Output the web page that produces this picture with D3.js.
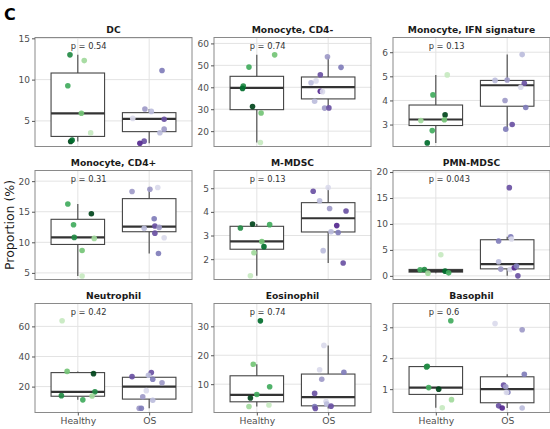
<!DOCTYPE html>
<html>
<head>
<meta charset="utf-8">
<script src="https://cdn.jsdelivr.net/npm/d3@7"></script>
<style>
  body { margin: 0; background: #fff; }
  svg { font-family: 'DejaVu Sans', sans-serif; }
</style>
</head>
<body>
<svg id="chart" width="550" height="429"></svg>
<script>
// data
const panelTitles = ['DC', 'Monocyte, CD4-', 'Monocyte, IFN signature', 'Monocyte, CD4+', 'M-MDSC', 'PMN-MDSC', 'Neutrophil', 'Eosinophil', 'Basophil'];
const groups = ['Healthy', 'OS'];
const pLabels = ['p = 0.54', 'p = 0.74', 'p = 0.13', 'p = 0.31', 'p = 0.13', 'p = 0.043', 'p = 0.42', 'p = 0.74', 'p = 0.6'];
const yDomains = [[1.9, 15.1], [13, 62.7], [2.09, 6.61], [3.92, 21.74], [1.14, 5.75], [-0.7, 20.3], [2.8, 75.2], [0.2, 37.9], [0.245, 3.77]];
const yTicks = [[5, 10, 15], [20, 30, 40, 50, 60], [3, 4, 5, 6], [5, 10, 15, 20], [2, 3, 4, 5], [0, 5, 10, 15, 20], [20, 40, 60], [10, 20, 30], [1, 2, 3]];

const healthyValues = [
	[13.0, 12.3, 9.25, 5.93, 3.55, 2.5, 2.67],
	[54.8, 49.2, 40.6, 39.5, 31.2, 28.3, 14.8],
	[5.06, 4.23, 3.40, 3.17, 3.2, 2.75, 2.24],
	[16.27, 14.68, 12.87, 10.8, 10.64, 8.67, 4.5],
	[3.49, 3.46, 3.32, 2.75, 2.53, 2.27, 1.30],
	[4.06, 1.16, 1.24, 0.91, 0.52, 0.58],
	[63.7, 30.1, 28.6, 16.5, 14.0, 13.8, 11.2],
	[31.9, 16.9, 9.1, 6.4, 5.2, 2.3, 2.8],
	[3.21, 1.72, 1.74, 1.05, 1.0, 0.66, 0.40]
];
const healthyShades = [
	[2, 5, 3, 4, 6, 0, 1],
	[4, 3, 2, 1, 0, 4, 6],
	[6, 3, 0, 5, 4, 3, 1],
	[3, 0, 3, 2, 5, 4, 6],
	[0, 3, 2, 4, 1, 5, 6],
	[6, 3, 2, 1, 5, 3],
	[6, 4, 0, 2, 2, 5, 3],
	[1, 4, 3, 3, 0, 5, 6],
	[3, 2, 2, 3, 0, 5, 6]
];
const healthyJitter = [
	[-0.11, 0.09, -0.14, 0.05, 0.18, -0.10, -0.08],
	[0.25, -0.11, -0.19, -0.20, -0.06, 0.06, 0.05],
	[0.16, -0.04, 0.13, -0.21, 0.12, -0.05, -0.12],
	[-0.14, 0.19, -0.06, -0.05, 0.23, 0.06, 0.06],
	[-0.06, 0.18, -0.23, 0.07, 0.10, -0.04, -0.09],
	[0.07, -0.22, -0.16, 0.13, -0.11, 0.18],
	[-0.22, -0.15, 0.22, 0.24, -0.23, 0.20, 0.07],
	[0.05, -0.05, 0.18, 0.0, -0.09, -0.11, 0.17],
	[0.21, -0.13, -0.12, -0.10, 0.04, 0.22, 0.09]
];
const osValues = [
	[11.1, 6.45, 6.15, 5.3, 5.2, 4.0, 3.56, 2.55, 2.3],
	[53.9, 49.1, 45.7, 42.9, 42.1, 38.2, 38.0, 33.6, 30.5, 30.6],
	[5.9, 4.83, 4.85, 4.71, 4.55, 4.0, 3.71, 3.0, 2.81],
	[18.95, 18.68, 18.3, 13.86, 12.66, 12.28, 12.44, 11.5, 10.74, 8.18],
	[5.03, 4.87, 4.47, 4.14, 4.04, 3.42, 3.16, 3.13, 2.36, 1.84],
	[17.0, 7.55, 7.1, 6.71, 2.71, 1.3, 1.24, 1.55, 1.88, 0.0],
	[29.3, 27.5, 26.6, 24.9, 22.6, 17.3, 13.3, 10.9, 5.6, 5.6],
	[23.4, 14.1, 15.0, 11.7, 6.8, 4.0, 3.1, 2.3, 1.6, 2.4],
	[3.12, 2.92, 1.48, 1.13, 1.08, 0.90, 0.89, 0.46, 0.39, 0.39]
];
const osShades = [
	[3, 4, 5, 6, 2, 4, 5, 2, 1],
	[4, 3, 2, 6, 5, 1, 6, 5, 4, 2],
	[5, 5, 4, 2, 6, 4, 3, 2, 3],
	[6, 4, 4, 3, 2, 5, 4, 2, 6, 3],
	[6, 2, 5, 4, 2, 1, 5, 3, 5, 2],
	[2, 3, 6, 3, 5, 4, 6, 1, 3, 2],
	[2, 5, 2, 3, 4, 6, 4, 5, 4, 3],
	[6, 3, 6, 4, 2, 6, 5, 3, 2, 2],
	[6, 4, 3, 2, 4, 3, 6, 2, 1, 5]
];
const osJitter = [
	[0.18, -0.06, 0.03, -0.23, 0.21, 0.21, 0.15, -0.07, -0.13],
	[-0.01, 0.18, -0.11, -0.17, -0.24, -0.11, -0.08, -0.19, -0.05, 0.01],
	[0.21, -0.17, 0.0, 0.24, 0.19, -0.03, 0.26, 0.07, -0.02],
	[0.12, 0.01, -0.24, 0.07, 0.08, -0.07, 0.14, 0.08, 0.21, 0.13],
	[0.0, -0.21, -0.12, 0.02, 0.25, 0.12, 0.04, 0.14, -0.07, 0.21],
	[0.03, 0.05, 0.06, -0.12, -0.12, -0.09, 0.04, 0.10, 0.13, 0.15],
	[0.03, -0.01, -0.24, 0.05, 0.18, -0.04, -0.09, 0.05, -0.14, -0.11],
	[-0.06, 0.22, -0.12, -0.09, -0.19, -0.03, -0.02, -0.19, -0.18, 0.04],
	[-0.17, 0.21, 0.24, -0.05, -0.02, 0.01, -0.01, -0.12, -0.07, 0.21]
];
// [lower whisker, q1, median, q3, upper whisker]
const healthyBoxes = [
	[2.5, 3.12, 5.9, 10.8, 13.0],
	[14.8, 29.8, 39.7, 45.0, 54.8],
	[2.24, 2.96, 3.21, 3.81, 5.06],
	[4.5, 9.65, 10.8, 13.76, 16.27],
	[1.30, 2.42, 2.75, 3.39, 3.49],
	[0.52, 0.72, 0.97, 1.24, 1.24],
	[11.2, 13.6, 16.5, 29.3, 30.1],
	[2.3, 3.9, 6.3, 12.9, 16.9],
	[0.40, 0.83, 1.05, 1.73, 1.74]
];
const osBoxes = [
	[2.3, 3.7, 5.25, 6.0, 6.45],
	[30.5, 34.7, 40.1, 44.7, 53.9],
	[2.81, 3.76, 4.63, 4.83, 5.9],
	[8.18, 11.73, 12.55, 17.14, 18.95],
	[1.84, 3.15, 3.73, 4.39, 5.03],
	[0.0, 1.35, 2.26, 6.96, 7.55],
	[5.6, 11.7, 20.0, 26.2, 29.3],
	[1.6, 2.5, 5.5, 13.5, 23.4],
	[0.39, 0.56, 1.0, 1.4, 1.48]
];

const greens = ['#00441b', '#006d2c', '#238b45', '#41ab5d', '#74c476', '#a1d99b', '#c7e9c0'];
const purples = ['#3f007d', '#54278f', '#6a51a3', '#807dba', '#9e9ac8', '#bcbddc', '#dadaeb'];

// layout
const margin = { left: 35, top: 37.5 };
const panelW = 157, panelH = 109;
const colStep = 179, rowStep = 133;
const tickColor = '#4d4d4d';

const svg = d3.select('#chart');

svg.append('text')
	.attr('x', 4).attr('y', 20)
	.style('font-size', '16px').style('font-weight', 'bold')
	.text('C');

svg.append('text')
	.attr('transform', `translate(14,${margin.top + (2 * rowStep + panelH) / 2}) rotate(-90)`)
	.style('text-anchor', 'middle')
	.style('font-size', '12.5px')
	.attr('fill', '#1a1a1a')
	.text('Proportion (%)');

panelTitles.forEach((title, i) => {
	const col = i % 3, row = Math.floor(i / 3);
	const g = svg.append('g')
		.attr('transform', `translate(${margin.left + col * colStep},${margin.top + row * rowStep})`);

	const x = d3.scaleLinear().domain([0.4, 2.6]).range([0, panelW]);
	const y = d3.scaleLinear().domain(yDomains[i]).range([panelH, 0]);

	g.append('rect').attr('width', panelW).attr('height', panelH).attr('fill', '#fff');

	// grid
	g.append('g').selectAll('line').data(yTicks[i]).join('line')
		.attr('x1', 0).attr('x2', panelW)
		.attr('y1', d => y(d)).attr('y2', d => y(d))
		.attr('stroke', '#e3e3e3').attr('stroke-width', 1);
	g.append('g').selectAll('line').data([1, 2]).join('line')
		.attr('y1', 0).attr('y2', panelH)
		.attr('x1', d => x(d)).attr('x2', d => x(d))
		.attr('stroke', '#e3e3e3').attr('stroke-width', 1);

	// boxes
	const boxes = [healthyBoxes[i], osBoxes[i]];
	boxes.forEach((b, k) => {
		const cx = x(k + 1);
		const bg = g.append('g');
		bg.append('line').attr('x1', cx).attr('x2', cx).attr('y1', y(b[0])).attr('y2', y(b[4]))
			.attr('stroke', '#444').attr('stroke-width', 1.1);
		bg.append('rect')
			.attr('x', x(k + 1 - 0.375)).attr('width', x(k + 1.375) - x(k + 1 - 0.375))
			.attr('y', y(b[3])).attr('height', y(b[1]) - y(b[3]))
			.attr('fill', '#fff').attr('stroke', '#444').attr('stroke-width', 1.1);
		bg.append('line')
			.attr('x1', x(k + 1 - 0.375)).attr('x2', x(k + 1.375))
			.attr('y1', y(b[2])).attr('y2', y(b[2]))
			.attr('stroke', '#333').attr('stroke-width', 2.2);
	});

	// points
	const pts = healthyValues[i].map((v, j) => ({ grp: 1, v, j: healthyJitter[i][j], c: greens[healthyShades[i][j]] }))
		.concat(osValues[i].map((v, j) => ({ grp: 2, v, j: osJitter[i][j], c: purples[osShades[i][j]] })));
	g.append('g').selectAll('circle').data(pts).join('circle')
		.attr('cx', d => x(d.grp + d.j))
		.attr('cy', d => y(d.v))
		.attr('r', 2.8)
		.attr('fill', d => d.c)
		.attr('fill-opacity', 0.92);

	// border
	g.append('rect').attr('width', panelW).attr('height', panelH)
		.attr('fill', 'none').attr('stroke', '#8a8a8a').attr('stroke-width', 1);

	// y axis
	const yAxis = g.append('g').call(d3.axisLeft(y).tickValues(yTicks[i]).tickFormat(d3.format('~g')).tickSize(3).tickPadding(2));
	yAxis.select('.domain').remove();
	yAxis.selectAll('line').attr('stroke', '#555');
	yAxis.selectAll('text').attr('fill', tickColor).style('font-size', '9px').style('font-family', 'DejaVu Sans');

	// x axis on bottom row only
	if (row === 2) {
		const xAxis = g.append('g').attr('transform', `translate(0,${panelH})`)
			.call(d3.axisBottom(x).tickValues([1, 2]).tickFormat(d => groups[d - 1]).tickSize(3).tickPadding(2));
		xAxis.select('.domain').remove();
		xAxis.selectAll('line').attr('stroke', '#555');
		xAxis.selectAll('text').attr('fill', tickColor).style('font-size', '9.2px').style('font-family', 'DejaVu Sans');
	}

	// title
	g.append('text')
		.attr('x', panelW / 2).attr('y', -5)
		.style('text-anchor', 'middle')
		.style('font-size', '9.2px').style('font-weight', 'bold')
		.attr('fill', '#1a1a1a')
		.text(title);

	// p value
	g.append('text')
		.attr('x', x(0.9)).attr('y', 11.5)
		.style('font-size', '8.3px')
		.attr('fill', '#333')
		.text(pLabels[i]);
});
</script>
</body>
</html>
